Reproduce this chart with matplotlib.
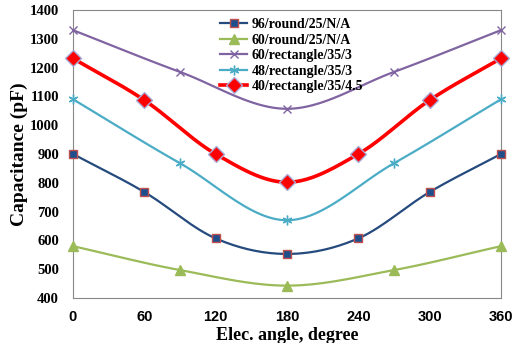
import numpy as np
import matplotlib
matplotlib.use("Agg")
import matplotlib.pyplot as plt

# data
ang7 = [0, 60, 120, 180, 240, 300, 360]
ang5 = [0, 90, 180, 270, 360]
round96 = [900, 768, 607, 553, 607, 768, 900]
round60 = [580, 497, 443, 497, 580]
rect60 = [1330, 1185, 1057, 1185, 1330]
rect48 = [1090, 868, 670, 868, 1090]
rect40 = [1232, 1087, 900, 802, 900, 1087, 1232]
labels = ["96/round/25/N/A", "60/round/25/N/A", "60/rectangle/35/3",
          "48/rectangle/35/3", "40/rectangle/35/4.5"]


def smooth(x, y, n=30):
    # Catmull-Rom curve through the points, like Excel's smoothed line
    x = np.asarray(x, float)
    y = np.asarray(y, float)
    px = np.concatenate([[2 * x[0] - x[1]], x, [2 * x[-1] - x[-2]]])
    py = np.concatenate([[2 * y[0] - y[1]], y, [2 * y[-1] - y[-2]]])
    xs, ys = [], []
    t = np.linspace(0, 1, n)
    for i in range(1, len(px) - 2):
        for p, out in ((px, xs), (py, ys)):
            p0, p1, p2, p3 = p[i - 1], p[i], p[i + 1], p[i + 2]
            out.extend(0.5 * (2 * p1 + (-p0 + p2) * t
                              + (2 * p0 - 5 * p1 + 4 * p2 - p3) * t ** 2
                              + (-p0 + 3 * p1 - 3 * p2 + p3) * t ** 3))
    return xs, ys


fig = plt.figure(figsize=(5.15, 3.43), dpi=100)
ax = fig.add_axes([0.1417, 0.1312, 0.8311, 0.8396])

series = [
    (ang7, round96, dict(color="#254A7E", lw=1.6), dict(marker="s", ms=5.5, mfc="#1F4E8C", mec="#C0504D", mew=1)),
    (ang5, round60, dict(color="#9BBB59", lw=1.6), dict(marker="^", ms=7, mfc="#9BBB59", mec="#9BBB59")),
    (ang5, rect60, dict(color="#8064A2", lw=1.6), dict(marker="x", ms=6, mec="#8064A2", mew=1)),
    (ang5, rect48, dict(color="#4BACC6", lw=1.6), dict(marker=(6, 2, 0), ms=7, mec="#4BACC6", mew=1)),
    (ang7, rect40, dict(color="#FF0000", lw=2.6), dict(marker="D", ms=8, mfc="#FF0000", mec="#A9A9D6", mew=1)),
]

handles = []
for (x, y, lst, mst), lab in zip(series, labels):
    sx, sy = smooth(x, y)
    ax.plot(sx, sy, zorder=2, **lst)
    ax.plot(x, y, ls="none", zorder=3, clip_on=False, **mst)
    h, = ax.plot([], [], color=lst["color"], lw=lst["lw"], **mst)
    handles.append(h)

ax.set_xlim(0, 360)
ax.set_ylim(400, 1400)
ax.set_xticks(ang7)
ax.set_yticks(range(400, 1401, 100))
ax.tick_params(length=0)
ax.tick_params(axis="y", pad=10)
ax.tick_params(axis="x", pad=9)
for t in ax.get_yticklabels():
    t.set_fontfamily("Liberation Serif")
    t.set_fontweight("bold")
    t.set_fontsize(10.5)
for t in ax.get_xticklabels():
    t.set_fontfamily("Liberation Sans")
    t.set_fontweight("bold")
    t.set_fontsize(10.5)
for s in ax.spines.values():
    s.set_color("#888888")

ax.set_xlabel("Elec. angle, degree", fontfamily="Liberation Serif",
              fontweight="bold", fontsize=13, labelpad=1.5)
ax.set_ylabel("Capacitance (pF)", fontfamily="Liberation Serif",
              fontweight="bold", fontsize=14, labelpad=1)

ax.legend(handles, labels, loc="upper left", bbox_to_anchor=(0.325, 1.0),
          frameon=False, handlelength=1.9, handletextpad=0.35,
          labelspacing=0.18, borderaxespad=0.2,
          prop=dict(family="Liberation Serif", weight="bold", size=10))

fig.savefig("out.png", dpi=100)
